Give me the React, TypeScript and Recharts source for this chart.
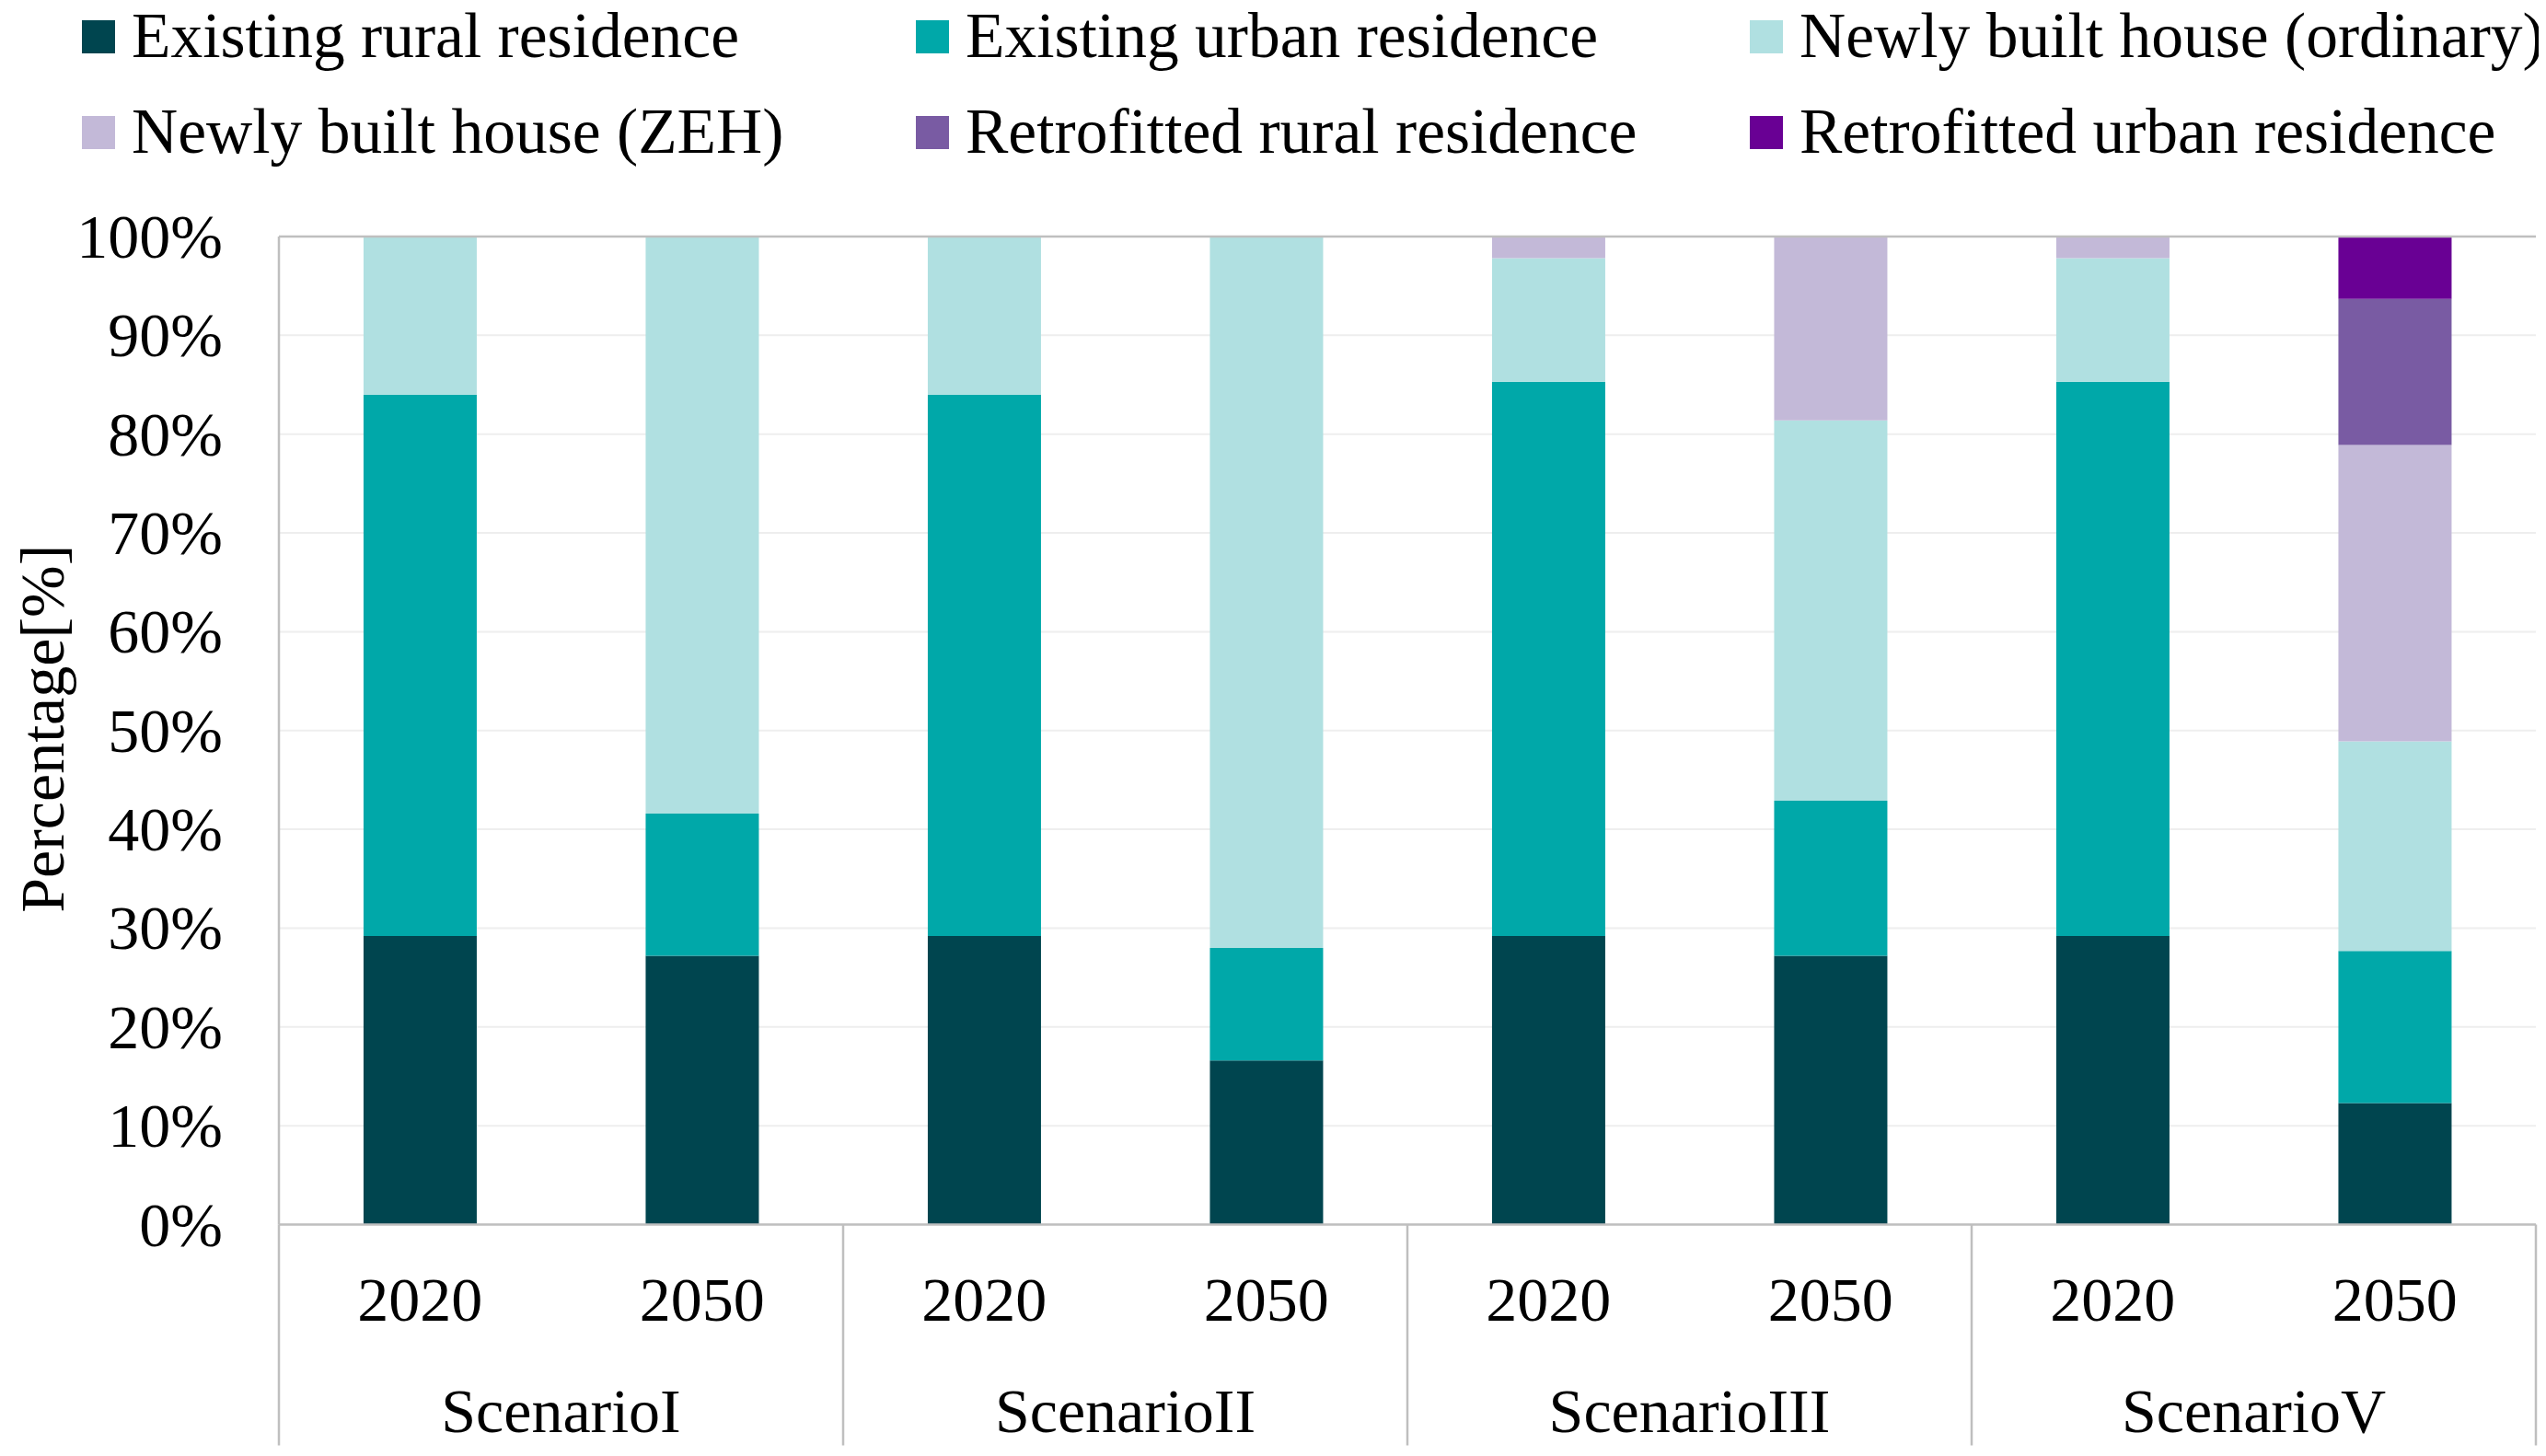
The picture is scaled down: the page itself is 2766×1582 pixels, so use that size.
import React from 'react';
import { BarChart, Bar, XAxis, YAxis, CartesianGrid, ReferenceLine, Legend } from 'recharts';

// ---- data ----
const scenarioNames = ['ScenarioI', 'ScenarioII', 'ScenarioIII', 'ScenarioV'];
const years = ['2020', '2050'];

const seriesNames = [
  'Existing rural residence',
  'Existing urban residence',
  'Newly built house (ordinary)',
  'Newly built house (ZEH)',
  'Retrofitted rural residence',
  'Retrofitted urban residence',
];
const seriesKeys = ['rural', 'urban', 'ordinary', 'zeh', 'retroRural', 'retroUrban'];
const seriesColors = ['#00454F', '#00A8A9', '#B0E0E1', '#C3B9D8', '#795BA3', '#690094'];

// values per bar (ScenarioI 2020, 2050, ScenarioII 2020, 2050, ...)
const existingRural = [29.2, 27.2, 29.2, 16.6, 29.2, 27.2, 29.2, 12.3];
const existingUrban = [54.8, 14.4, 54.8, 11.4, 56.1, 15.7, 56.1, 15.4];
const newOrdinary = [16.0, 58.4, 16.0, 72.0, 12.5, 38.5, 12.5, 21.2];
const newZEH = [0, 0, 0, 0, 2.2, 18.6, 2.2, 30.0];
const retroRural = [0, 0, 0, 0, 0, 0, 0, 14.8];
const retroUrban = [0, 0, 0, 0, 0, 0, 0, 6.3];

const yTicks = [0, 10, 20, 30, 40, 50, 60, 70, 80, 90, 100];
const yTickLabels = ['0%', '10%', '20%', '30%', '40%', '50%', '60%', '70%', '80%', '90%', '100%'];

const seriesValues = [existingRural, existingUrban, newOrdinary, newZEH, retroRural, retroUrban];

const rows = scenarioNames.flatMap((s, si) =>
  years.map((yr, yi) => {
    const idx = si * years.length + yi;
    const row: any = { scenario: s, year: yr };
    seriesKeys.forEach((k, ki) => {
      row[k] = seriesValues[ki][idx];
    });
    return row;
  })
);

// ---- styles ----
const FONT = '"Liberation Serif", "Times New Roman", serif';
const FS = 68;
const LEGEND_FS = 69.5;
const BORDER = '#BFBFBF';

const YTick = (props: any) => {
  const { x, y, payload } = props;
  const i = yTicks.indexOf(payload.value);
  return (
    <text x={x} y={y} dy={23} textAnchor="end" fontFamily={FONT} fontSize={FS} fill="#000">
      {yTickLabels[i]}
    </text>
  );
};

const XTick = (props: any) => {
  const { x, y, payload, width, visibleTicksCount, index } = props;
  const half = payload.offset != null && payload.offset > 0 ? payload.offset : width / visibleTicksCount / 2;
  const i = index != null ? index : payload.index;
  const row = rows[i];
  const lineLen = 240;
  return (
    <g>
      <text x={x} y={y + 104} textAnchor="middle" fontFamily={FONT} fontSize={FS} fill="#000">
        {payload.value}
      </text>
      {i % 2 === 0 && (
        <line x1={x - half} x2={x - half} y1={y} y2={y + lineLen} stroke={BORDER} strokeWidth={2.5} />
      )}
      {i === rows.length - 1 && (
        <line x1={x + half} x2={x + half} y1={y} y2={y + lineLen} stroke={BORDER} strokeWidth={2.5} />
      )}
      {i % 2 === 1 && row && (
        <text x={x - half} y={y + 225} textAnchor="middle" fontFamily={FONT} fontSize={FS} fill="#000">
          {row.scenario}
        </text>
      )}
    </g>
  );
};

const YLabel = (props: any) => {
  const vb = props.viewBox || {};
  const cx = 61;
  const cy = vb.y + vb.height / 2 - 2;
  return (
    <text
      x={cx}
      y={cy}
      transform={`rotate(-90 ${cx} ${cy})`}
      textAnchor="middle"
      fontFamily={FONT}
      fontSize={FS}
      fill="#000"
    >
      Percentage[%]
    </text>
  );
};

// legend layout (svg starts 8px above the chart so it covers the page top)
const LEGEND_SHIFT = 8;
const LEGEND_X0 = 81;
const LEGEND_COL_W = 906;
const LEGEND_ROW_H = 104;

const LegendContent = () => (
  <svg width={2750} height={228} style={{ display: 'block', overflow: 'visible' }}>
    {seriesNames.map((name, i) => {
      const col = i % 3;
      const r = Math.floor(i / 3);
      const x = LEGEND_X0 + col * LEGEND_COL_W;
      const yTop = LEGEND_SHIFT + 14 + r * LEGEND_ROW_H;
      return (
        <g key={name}>
          <rect x={x} y={yTop} width={36} height={36} fill={seriesColors[i]} />
          <text x={x + 54} y={yTop + 40} fontFamily={FONT} fontSize={LEGEND_FS} fill="#000">
            {name}
          </text>
        </g>
      );
    })}
  </svg>
);

export default function App() {
  return (
    <div style={{ width: 2750, height: 1566 }}>
      <BarChart
        width={2750}
        height={1566}
        data={rows}
        margin={{ top: 249, right: 3, bottom: 3.5, left: 0 }}
        barCategoryGap="30%"
        style={{ overflow: 'visible' }}
      >
        <CartesianGrid vertical={false} stroke="#EEEEEE" strokeWidth={2} />
        <XAxis
          dataKey="year"
          interval={0}
          tickLine={false}
          tickSize={0}
          tickMargin={0}
          height={240}
          axisLine={{ stroke: BORDER, strokeWidth: 2.5 }}
          tick={<XTick />}
        />
        <YAxis
          domain={[0, 100]}
          ticks={yTicks}
          width={295}
          tickLine={false}
          tickSize={0}
          tickMargin={61}
          axisLine={{ stroke: BORDER, strokeWidth: 2.5 }}
          tick={<YTick />}
          label={{ content: <YLabel /> }}
        />
        <YAxis
          yAxisId="right"
          orientation="right"
          domain={[0, 100]}
          width={0}
          tick={false}
          tickLine={false}
          axisLine={{ stroke: BORDER, strokeWidth: 2.5 }}
        />
        <ReferenceLine y={100} stroke={BORDER} strokeWidth={2.5} />
        <Legend
          layout="horizontal"
          verticalAlign="middle"
          align="center"
          wrapperStyle={{ top: -LEGEND_SHIFT, left: 0, width: 2750, height: 228 }}
          content={<LegendContent />}
        />
        {seriesKeys.map((k, i) => (
          <Bar
            key={k}
            dataKey={k}
            name={seriesNames[i]}
            stackId="a"
            fill={seriesColors[i]}
            isAnimationActive={false}
          />
        ))}
      </BarChart>
    </div>
  );
}
